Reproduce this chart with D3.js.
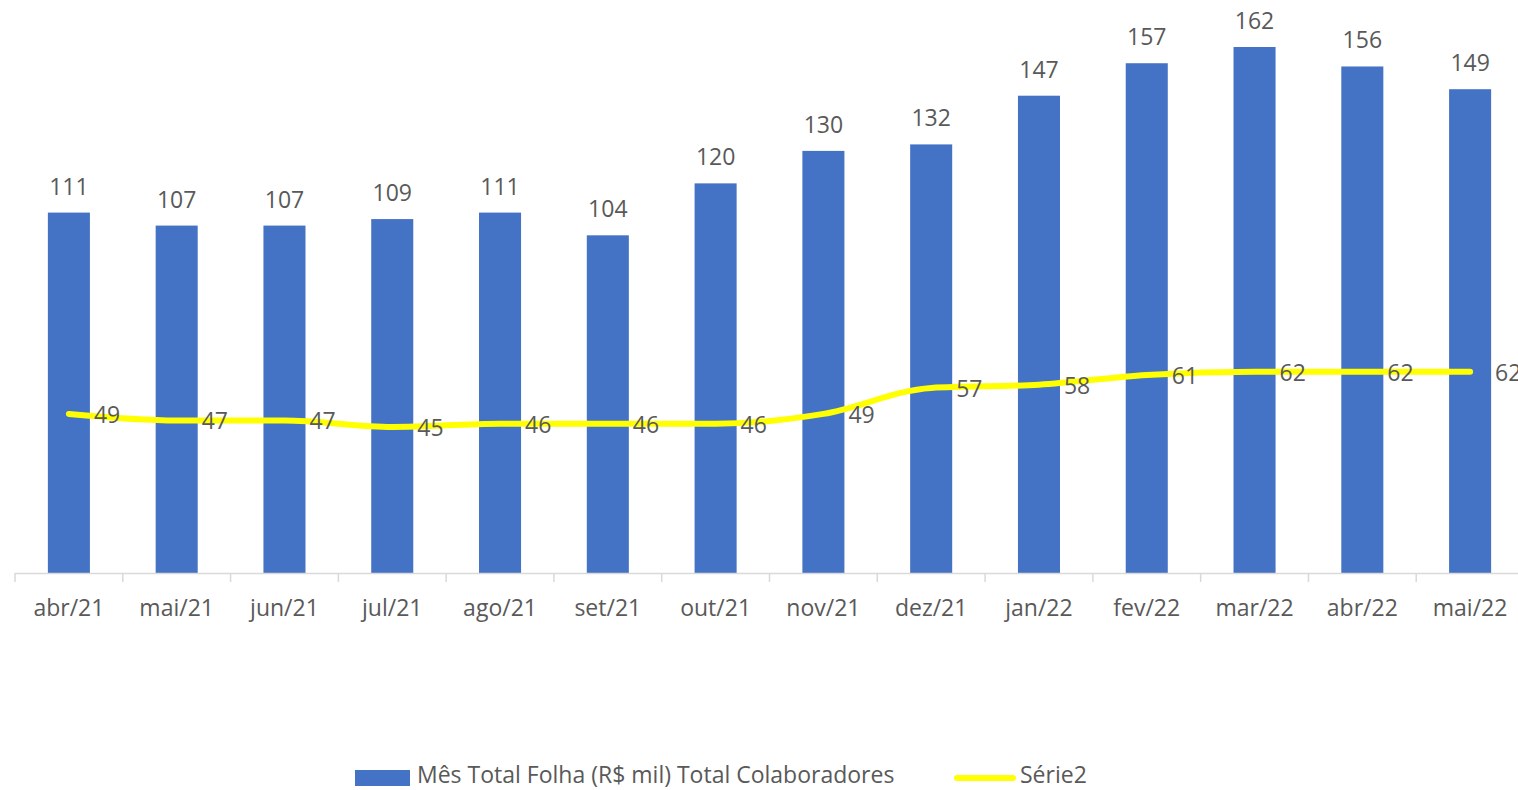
<!DOCTYPE html>
<html>
<head>
<meta charset="utf-8">
<script src="https://cdn.jsdelivr.net/npm/d3@7"></script>
<style>
  body { margin: 0; background: #fff; }
  text { font-family: "Open Sans", "Noto Sans", sans-serif; fill: #595959; }
</style>
</head>
<body>
<div class="card"></div>
<script>
// data
var months = ["abr/21", "mai/21", "jun/21", "jul/21", "ago/21", "set/21", "out/21", "nov/21", "dez/21", "jan/22", "fev/22", "mar/22", "abr/22", "mai/22"];
var folha = [111, 107, 107, 109, 111, 104, 120, 130, 132, 147, 157, 162, 156, 149];
var colab = [49, 47, 47, 45, 46, 46, 46, 49, 57, 58, 61, 62, 62, 62];
var legendNames = ["Mês Total Folha (R$ mil) Total Colaboradores", "Série2"];

var width = 1518, height = 790;
var blue = "#4472c4", yellow = "#ffff00";

var svg = d3.select('.card')
  .append('svg')
  .attr('width', width)
  .attr('height', height)
  .style('display', 'block');

var x = d3.scaleBand()
  .domain(months)
  .range([15, 1524])
  .paddingInner(0.61)
  .paddingOuter(0.305);

// baseline at 573, 162 -> 47
var y = d3.scaleLinear()
  .domain([0, 162])
  .range([573, 47]);

// bars
svg.selectAll('.bar')
  .data(folha)
  .enter()
  .append('rect')
  .attr('class', 'bar')
  .attr('x', (d, i) => x(months[i]))
  .attr('y', d => y(d))
  .attr('width', x.bandwidth())
  .attr('height', d => y(0) - y(d))
  .style('fill', blue);

// bar labels
svg.selectAll('.barLabel')
  .data(folha)
  .enter()
  .append('text')
  .attr('x', (d, i) => x(months[i]) + x.bandwidth() / 2)
  .attr('y', d => y(d) - 18)
  .attr('text-anchor', 'middle')
  .style('font-size', '23px')
  .text(d => d);

// x axis, ticks between categories like excel
var step = x.step();
var axisG = svg.append('g');
axisG.append('line')
  .attr('x1', 15).attr('x2', width)
  .attr('y1', 573.5).attr('y2', 573.5)
  .style('stroke', '#d9d9d9').style('stroke-width', 1.5);
axisG.selectAll('.tick')
  .data(d3.range(months.length))
  .enter()
  .append('line')
  .attr('x1', i => x(months[i]) - (step - x.bandwidth()) / 2)
  .attr('x2', i => x(months[i]) - (step - x.bandwidth()) / 2)
  .attr('y1', 573).attr('y2', 582)
  .style('stroke', '#d9d9d9').style('stroke-width', 1.5);
axisG.selectAll('.mlabel')
  .data(months)
  .enter()
  .append('text')
  .attr('x', d => x(d) + x.bandwidth() / 2)
  .attr('y', 616)
  .attr('text-anchor', 'middle')
  .style('font-size', '23px')
  .text(d => d);

// line series
var line = d3.line()
  .x((d, i) => x(months[i]) + x.bandwidth() / 2)
  .y(d => y(d))
  .curve(d3.curveMonotoneX);

svg.append('path')
  .datum(colab)
  .attr('d', line)
  .style('fill', 'none')
  .style('stroke', yellow)
  .style('stroke-width', 6)
  .style('stroke-linecap', 'round');

svg.selectAll('.lineLabel')
  .data(colab)
  .enter()
  .append('text')
  .attr('x', (d, i) => x(months[i]) + x.bandwidth() / 2 + 25)
  .attr('y', d => y(d) + 9)
  .style('font-size', '23px')
  .text(d => d);

// legend
var leg = svg.append('g');
leg.append('rect')
  .attr('x', 355).attr('y', 770)
  .attr('width', 55).attr('height', 16)
  .style('fill', blue);
leg.append('text')
  .attr('x', 417).attr('y', 783)
  .style('font-size', '23px')
  .text(legendNames[0]);
leg.append('line')
  .attr('x1', 957).attr('x2', 1013)
  .attr('y1', 778).attr('y2', 778)
  .style('stroke', yellow).style('stroke-width', 6)
  .style('stroke-linecap', 'round');
leg.append('text')
  .attr('x', 1020).attr('y', 783)
  .style('font-size', '23px')
  .text(legendNames[1]);
</script>
</body>
</html>
